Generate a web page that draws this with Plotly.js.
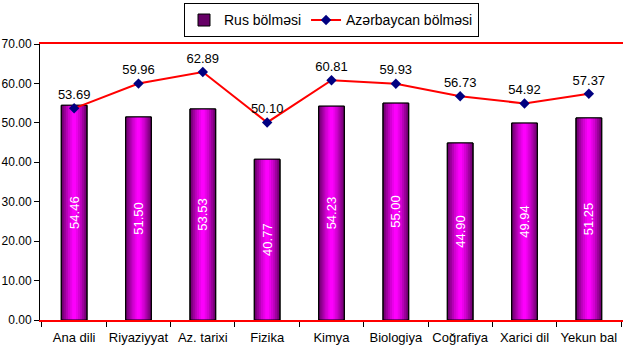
<!DOCTYPE html>
<html>
<head>
<meta charset="utf-8">
<script src="https://cdn.plot.ly/plotly-3.0.1.min.js"></script>
<style>html,body{margin:0;padding:0;background:#fff;}#chart{width:627px;height:351px;}</style>
</head>
<body>
<div id="chart"></div>
<script>
const categories = ["Ana dili", "Riyaziyyat", "Az. tarixi", "Fizika", "Kimya", "Biologiya", "Coğrafiya", "Xarici dil", "Yekun bal"];
const rusValues = [54.46, 51.50, 53.53, 40.77, 54.23, 55.00, 44.90, 49.94, 51.25];
const azValues = [53.69, 59.96, 62.89, 50.10, 60.81, 59.93, 56.73, 54.92, 57.37];
const rusName = "Rus bölməsi";
const azName = "Azərbaycan bölməsi";

const font = "Liberation Sans, Arial, sans-serif";

// layered bars to mimic the cylinder-like gradient
const layers = [
  {w: 0.40, c: "#660066"},
  {w: 0.36, c: "#800080"},
  {w: 0.31, c: "#9c009c"},
  {w: 0.25, c: "#b900b9"},
  {w: 0.19, c: "#d400d4"},
  {w: 0.12, c: "#ea00ea"},
  {w: 0.06, c: "#fc00fc"}
];

const traces = layers.map((l, i) => ({
  type: "bar",
  x: categories,
  y: rusValues,
  name: rusName,
  width: l.w,
  showlegend: i === 0,
  legendgroup: "rus",
  hoverinfo: "skip",
  marker: {color: l.c, line: {color: i === 0 ? "#000" : l.c, width: i === 0 ? 1 : 0}}
}));

// outline + labels on top
traces.push({
  type: "bar",
  x: categories,
  y: rusValues,
  name: rusName,
  width: 0.40,
  showlegend: false,
  legendgroup: "rus",
  marker: {color: "rgba(0,0,0,0)", line: {color: "#000", width: 1}},
  text: rusValues.map(v => v.toFixed(2)),
  textposition: "inside",
  insidetextanchor: "middle",
  textangle: -90,
  constraintext: "none",
  textfont: {color: "#ffffff", size: 13, family: font}
});

traces.push({
  type: "scatter",
  mode: "lines+markers+text",
  x: categories,
  y: azValues,
  name: azName,
  line: {color: "#ff0000", width: 2},
  marker: {symbol: "diamond", color: "#000080", size: 8},
  text: azValues.map(v => v.toFixed(2)),
  textposition: "top center",
  textfont: {color: "#000", size: 13, family: font},
  cliponaxis: false
});

const layout = {
  width: 627,
  height: 351,
  margin: {l: 40, r: 4, t: 42, b: 31},
  paper_bgcolor: "#fff",
  plot_bgcolor: "#fff",
  barmode: "overlay",
  font: {family: font, size: 13, color: "#000"},
  showlegend: true,
  legend: {
    orientation: "h",
    x: 0.5, xanchor: "center",
    y: 1.147, yanchor: "top",
    bordercolor: "#000", borderwidth: 1,
    bgcolor: "#fff",
    font: {size: 14, family: font},
    itemwidth: 30,
    tracegroupgap: 0
  },
  xaxis: {
    type: "category",
    showgrid: false,
    showline: true, linecolor: "#ff0000", linewidth: 2, mirror: true,
    ticks: "outside", tickson: "boundaries", ticklen: 5, tickcolor: "#000", tickwidth: 1,
    tickangle: 0,
    ticklabelstandoff: 4,
    tickfont: {size: 13, family: font},
    zeroline: false
  },
  yaxis: {
    range: [0, 70],
    dtick: 10,
    tickformat: ".2f",
    showgrid: false,
    zeroline: false,
    showline: true, linecolor: "#000", linewidth: 1,
    ticks: "outside", ticklen: 5, tickcolor: "#000",
    tickfont: {size: 12, family: font}
  }
};

Plotly.newPlot("chart", traces, layout, {displayModeBar: false, staticPlot: true});
</script>
</body>
</html>
